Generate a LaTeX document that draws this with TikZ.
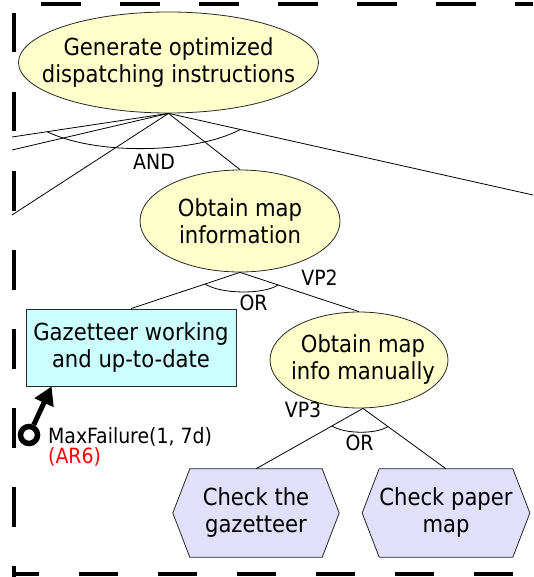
\documentclass[tikz,border=0pt]{standalone}
\usepackage{fontspec}
\setmainfont{DejaVu Sans Condensed}
\usetikzlibrary{shapes.geometric,arrows.meta,backgrounds}
\definecolor{goalfill}{RGB}{255,255,204}
\definecolor{boxfill}{RGB}{204,255,255}
\definecolor{taskfill}{RGB}{224,224,250}
\definecolor{edgecol}{RGB}{40,40,40}
\begin{document}
\begin{tikzpicture}[x=1pt,y=-1pt,
  goal/.style={ellipse, draw=edgecol, fill=goalfill, line width=0.8pt, inner sep=0pt},
  txt/.style={font=\fontsize{23.5}{27}\selectfont, align=center, inner sep=0pt},
  lbl/.style={font=\fontsize{21}{24}\selectfont, inner sep=0pt, anchor=base},
  link/.style={draw=black, line width=0.8pt},
  border/.style={line width=4pt, draw=black},
  taskshape/.style={draw=edgecol, fill=taskfill, line width=0.8pt}]
\useasboundingbox (0,0) rectangle (533,577);

% dashed frame
\draw[border, dash pattern=on 40pt off 39pt] (41,4) -- (533,4);
\draw[border, dash pattern=on 39.5pt off 39.5pt] (14,13) -- (14,577);
\draw[border, dash pattern=on 39pt off 40pt, dash phase=12pt] (12,574) -- (533,574);

% goals
\node[goal, minimum width=300pt, minimum height=101pt] (g0) at (168.5,62.5) {};
\node[txt] (g0t) at (g0.center) {Generate optimized\\dispatching instructions};
\node[goal, minimum width=200pt, minimum height=102pt] (g1) at (240,221) {};
\node[txt] (g1t) at (g1.center) {Obtain map\\information};
\node[goal, minimum width=178pt, minimum height=96pt] (g2) at (359,360) {};
\node[txt] (g2t) at ([xshift=4pt]g2.center) {Obtain map\\info manually};

% resource box
\node[txt, draw=edgecol, fill=boxfill, line width=0.8pt, minimum width=210pt, minimum height=77pt] (gaz) at (131,347.5) {Gazetteer working\\and up-to-date};

% tasks
\node[txt, minimum width=132pt, minimum height=88pt] (t1) at (256,513) {Check the\\gazetteer};
\node[txt, minimum width=132pt, minimum height=88pt] (t2) at (446,513) {Check paper\\map};
\begin{scope}[on background layer]
  \draw[taskshape] ([xshift=-17pt]t1.west) -- (t1.north west) -- (t1.north east) -- ([xshift=17pt]t1.east) -- (t1.south east) -- (t1.south west) -- cycle;
  \draw[taskshape] ([xshift=-17pt]t2.west) -- (t2.north west) -- (t2.north east) -- ([xshift=17pt]t2.east) -- (t2.south east) -- (t2.south west) -- cycle;
\end{scope}

% free ends
\coordinate (eL1) at (12,137);
\coordinate (eL2) at (12,150);
\coordinate (eL3) at (12,215);
\coordinate (eR) at (533,195);
\coordinate (a2) at ([xshift=4pt]g2.south);

% connectors from root
\draw[link] (g0.south) -- (eL1);
\draw[link] (g0.south) -- (eL2);
\draw[link] (g0.south) -- (eL3);
\draw[link] (g0.south) -- (g1.north);
\draw[link] (g0.south) -- (eR);
\path (g0.south) -- (eL1) coordinate[pos=0.776] (andL);
\path (g0.south) -- (eR) coordinate[pos=0.197] (andR);
\draw[link] (andL) .. controls +(50,24) and +(-45,24) .. (andR);

% OR decomposition of g1
\draw[link] (g1.south) -- (gaz.north);
\draw[link] (g1.south) -- (g2.north);
\path (g1.south) -- (gaz.north) coordinate[pos=0.32] (or1L);
\path (g1.south) -- (g2.north) coordinate[pos=0.32] (or1R);
\draw[link] (or1L) .. controls +(15,10) and +(-15,10) .. (or1R);

% OR decomposition of g2
\draw[link] (a2) -- (t1.north);
\draw[link] (a2) -- (t2.north);
\path (a2) -- (t1.north) coordinate[pos=0.29] (or2L);
\path (a2) -- (t2.north) coordinate[pos=0.30] (or2R);
\draw[link] (or2L) .. controls +(12,8) and +(-12,8) .. (or2R);

% labels
\node[lbl] (andl) at (154,170) {AND};
\node[lbl] (orl1) at (253.5,310) {OR};
\node[lbl] (vp2) at (319.5,285) {VP2};
\node[lbl] (vp3) at (303,417) {VP3};
\node[lbl] (orl2) at (359.5,450) {OR};

% observation / annotation
\node[circle, draw=black, line width=5.5pt, minimum size=17pt, inner sep=0pt] (obs) at (29,435) {};
\coordinate (tip) at ([xshift=26pt]gaz.south west);
\draw[line width=5pt, -{Triangle[length=18pt,width=20pt]}] (obs) -- (tip);
\node[lbl, anchor=base west] (mf) at (48,443) {MaxFailure(1, 7d)};
\node[lbl, anchor=base west, text=red] (ar6) at (48,463) {(AR6)};
\end{tikzpicture}
\end{document}
